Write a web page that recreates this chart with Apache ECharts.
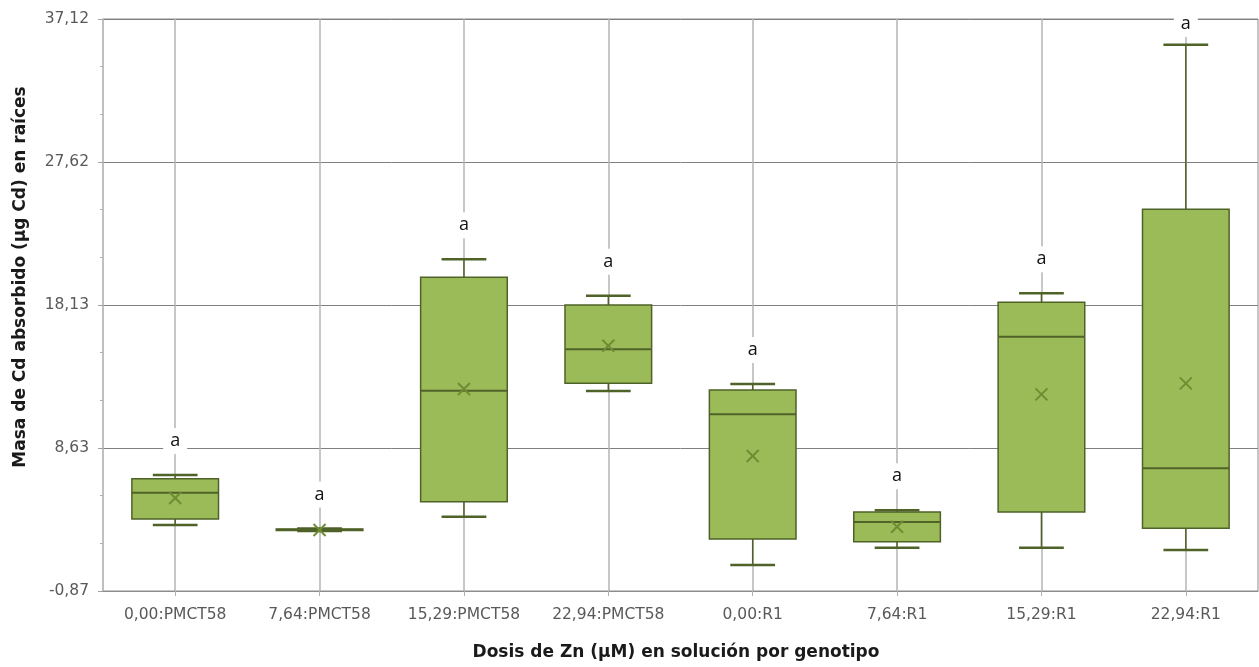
<!DOCTYPE html>
<html>
<head>
<meta charset="utf-8">
<title>Masa de Cd absorbido en raíces</title>
<script src="https://cdn.jsdelivr.net/npm/echarts@6/dist/echarts.min.js"></script>
<style>
  html, body { margin: 0; padding: 0; background: #ffffff; }
  #chart { width: 1259px; height: 667px; }
</style>
</head>
<body>
<div id="chart"></div>
<script>
// Dose of Zn (µM) by genotype
const categories = ['0,00:PMCT58', '7,64:PMCT58', '15,29:PMCT58', '22,94:PMCT58',
                    '0,00:R1', '7,64:R1', '15,29:R1', '22,94:R1'];

// Box statistics of Cd mass absorbed in roots (µg Cd)
const minVals    = [3.51, 3.12,  4.06, 12.41,  0.86, 2.01,  2.01,  1.85];
const q1Vals     = [3.91, 3.15,  5.06, 12.92,  2.58, 2.40,  4.38,  3.29];
const medianVals = [5.66, 3.20, 12.43, 15.18, 10.87, 3.71, 16.02,  7.28];
const q3Vals     = [6.59, 3.25, 19.96, 18.12, 12.48, 4.38, 18.30, 24.48];
const maxVals    = [6.83, 3.28, 21.16, 18.74, 12.88, 4.49, 18.90, 35.41];
const meanVals   = [5.31, 3.18, 12.55, 15.42,  8.10, 3.40, 12.19, 12.92];

// Significance letters
const letters = ['a', 'a', 'a', 'a', 'a', 'a', 'a', 'a'];

// Value axis
const yMin = -0.87;
const yMax = 37.12;
const yInterval = 9.4975;
const yTickLabels = ['-0,87', '8,63', '18,13', '27,62', '37,12'];

const seriesData = categories.map((c, i) =>
  [i, minVals[i], q1Vals[i], medianVals[i], q3Vals[i], maxVals[i], meanVals[i]]);

const BOX_FILL = '#9bbb59';
const BOX_EDGE = '#4f6228';
const MEAN_COLOR = '#6e8d33';

function renderBox(params, api) {
  const i = api.value(0);
  const pMin = api.coord([i, api.value(1)]);
  const pQ1 = api.coord([i, api.value(2)]);
  const pMed = api.coord([i, api.value(3)]);
  const pQ3 = api.coord([i, api.value(4)]);
  const pMax = api.coord([i, api.value(5)]);
  const pMean = api.coord([i, api.value(6)]);
  const band = api.size([1, 0])[0];
  const half = band * 0.3;
  const cap = band * 0.155;
  const x = pMin[0];
  const m = 6;
  // letter sits above the upper whisker, kept just inside the top border
  const labelY = Math.max(pMax[1] - 34, params.coordSys.y + 5);
  return {
    type: 'group',
    children: [
      { type: 'line', shape: { x1: x, y1: pMax[1], x2: x, y2: pMin[1] },
        style: { stroke: BOX_EDGE, lineWidth: 1.5 } },
      { type: 'line', shape: { x1: x - cap, y1: pMax[1], x2: x + cap, y2: pMax[1] },
        style: { stroke: BOX_EDGE, lineWidth: 2.5 } },
      { type: 'line', shape: { x1: x - cap, y1: pMin[1], x2: x + cap, y2: pMin[1] },
        style: { stroke: BOX_EDGE, lineWidth: 2.5 } },
      { type: 'rect', shape: { x: x - half, y: pQ3[1], width: 2 * half, height: pQ1[1] - pQ3[1] },
        style: { fill: BOX_FILL, stroke: BOX_EDGE, lineWidth: 1.5 } },
      { type: 'line', shape: { x1: x - half, y1: pMed[1], x2: x + half, y2: pMed[1] },
        style: { stroke: BOX_EDGE, lineWidth: 2 } },
      { type: 'line', shape: { x1: x - m, y1: pMean[1] - m, x2: x + m, y2: pMean[1] + m },
        style: { stroke: MEAN_COLOR, lineWidth: 2 } },
      { type: 'line', shape: { x1: x - m, y1: pMean[1] + m, x2: x + m, y2: pMean[1] - m },
        style: { stroke: MEAN_COLOR, lineWidth: 2 } },
      { type: 'text', x: x, y: labelY,
        style: { text: letters[i], fill: '#111', font: '18px "Open Sans"',
                 align: 'center', verticalAlign: 'middle',
                 backgroundColor: '#ffffff', padding: [4, 7] } }
    ]
  };
}

const chart = echarts.init(document.getElementById('chart'), null, { renderer: 'canvas' });

chart.setOption({
  animation: false,
  backgroundColor: '#ffffff',
  grid: {
    left: 103, right: 1, top: 19, bottom: 76,
    show: true, borderColor: '#8c8c8c', borderWidth: 1
  },
  xAxis: {
    type: 'category',
    data: categories,
    boundaryGap: true,
    axisLine: { show: true, onZero: false, lineStyle: { color: '#8c8c8c', width: 1 } },
    axisTick: { show: true, interval: 0, alignWithLabel: true, length: 5, lineStyle: { color: '#b0b0b0' } },
    axisLabel: { interval: 0, color: '#595959', fontFamily: 'DejaVu Sans', fontSize: 15.5, margin: 16 },
    splitLine: { show: true, interval: 0, alignWithLabel: true, lineStyle: { color: '#b4b4b4', width: 1.5 } }
  },
  yAxis: {
    type: 'value',
    min: yMin,
    max: yMax,
    interval: yInterval,
    axisLine: { show: true, lineStyle: { color: '#bdbdbd', width: 1.5 } },
    axisTick: { show: true, length: 5, lineStyle: { color: '#a0a0a0' } },
    minorTick: { show: true, splitNumber: 3, length: 3, lineStyle: { color: '#b0b0b0' } },
    axisLabel: {
      color: '#595959', fontFamily: 'DejaVu Sans', fontSize: 15.5, margin: 14,
      formatter: (v, idx) => yTickLabels[idx] !== undefined ? yTickLabels[idx] : ''
    },
    splitLine: { show: true, lineStyle: { color: '#808080', width: 1 } }
  },
  graphic: [
    { type: 'text', x: 21, y: 277, rotation: Math.PI / 2,
      style: { text: 'Masa de Cd absorbido (µg Cd) en raíces', fill: '#1a1a1a',
               font: 'bold 17px "DejaVu Sans"', align: 'center', verticalAlign: 'middle' } },
    { type: 'text', x: 676, y: 653,
      style: { text: 'Dosis de Zn (µM) en solución por genotipo', fill: '#1a1a1a',
               font: 'bold 17px "DejaVu Sans"', align: 'center', verticalAlign: 'middle' } }
  ],
  series: [{
    type: 'custom',
    name: 'Cd',
    renderItem: renderBox,
    encode: { x: 0, y: [1, 2, 3, 4, 5, 6] },
    data: seriesData,
    clip: false,
    z: 5
  }]
});
</script>
</body>
</html>
